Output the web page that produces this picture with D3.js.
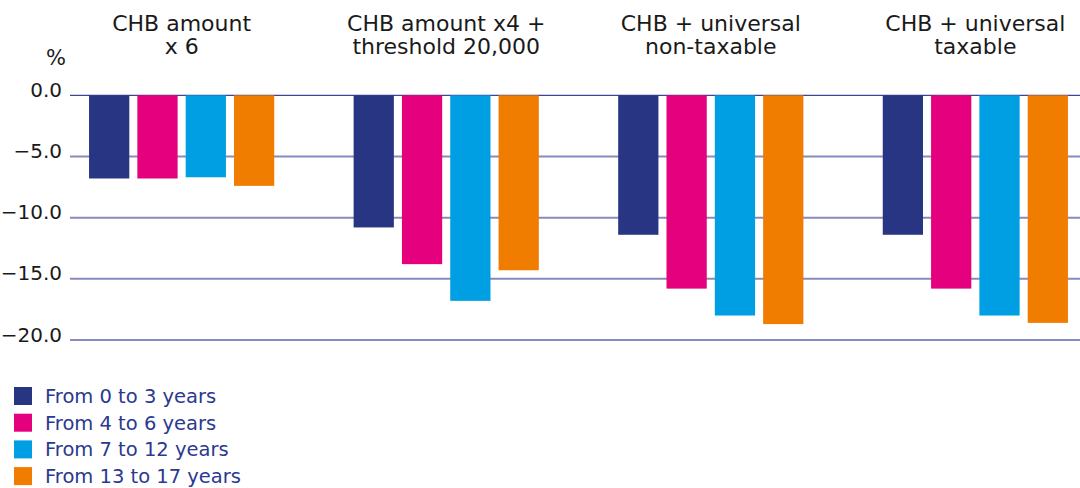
<!DOCTYPE html>
<html>
<head>
<meta charset="utf-8">
<script src="https://cdn.jsdelivr.net/npm/d3@7"></script>
<style>
  html, body { margin: 0; padding: 0; background: #fff; }
  svg { display: block; font-family: "DejaVu Sans", sans-serif; }
</style>
</head>
<body>
<svg id="chart" width="1080" height="488"></svg>
<script>
// Scenario titles (two lines each)
const scenarios = [
  ["CHB amount", "x 6"],
  ["CHB amount x4 +", "threshold 20,000"],
  ["CHB + universal", "non-taxable"],
  ["CHB + universal", "taxable"]
];
// Age groups (series)
const ageGroups = ["From 0 to 3 years", "From 4 to 6 years", "From 7 to 12 years", "From 13 to 17 years"];
const ageColors = ["#283583", "#e5007e", "#009fe3", "#f07d00"];
// Change in %, one array per age group, one value per scenario
const age0to3   = [-6.8, -10.8, -11.4, -11.4];
const age4to6   = [-6.8, -13.8, -15.8, -15.8];
const age7to12  = [-6.7, -16.8, -18.0, -18.0];
const age13to17 = [-7.4, -14.3, -18.7, -18.6];
const seriesValues = [age0to3, age4to6, age7to12, age13to17];
// Y axis ticks
const yTicks = [0, -5, -10, -15, -20];

const svg = d3.select("#chart");

const x0 = d3.scaleBand()
  .domain(d3.range(scenarios.length))
  .range([70, 1087])
  .paddingInner(0.3)
  .paddingOuter(0.072);

const x1 = d3.scaleBand()
  .domain(d3.range(ageGroups.length))
  .range([0, x0.bandwidth()])
  .paddingInner(0.167)
  .paddingOuter(0);

const y = d3.scaleLinear().domain([0, -20]).range([95.3, 340]);

// Gridlines
const grid = svg.append("g");
grid.selectAll("line")
  .data(yTicks)
  .join("line")
  .attr("x1", 70).attr("x2", 1080)
  .attr("y1", d => y(d)).attr("y2", d => y(d))
  .attr("stroke", d => d === 0 ? "#3d4592" : "#878bbd")
  .attr("stroke-width", d => d === 0 ? 1.3 : 2);

// Y axis labels
const yAxis = d3.axisLeft(y).tickValues(yTicks).tickFormat(d3.format(".1f")).tickSize(0).tickPadding(0);
const yg = svg.append("g").attr("transform", "translate(62,0)").call(yAxis);
yg.select(".domain").remove();
yg.selectAll("text")
  .attr("font-family", "DejaVu Sans, sans-serif")
  .attr("font-size", 20)
  .attr("fill", "#1a1a1a")
  .attr("dy", "0.05em")
  .attr("text-anchor", "end");

svg.append("text")
  .attr("x", 56).attr("y", 65)
  .attr("text-anchor", "middle")
  .attr("font-size", 21)
  .attr("fill", "#1a1a1a")
  .text("%");

// Bars
const groups = svg.append("g").selectAll("g")
  .data(scenarios.map((s, i) => i))
  .join("g")
  .attr("transform", i => `translate(${x0(i)},0)`);

groups.selectAll("rect")
  .data(i => seriesValues.map((vals, k) => ({k, v: vals[i]})))
  .join("rect")
  .attr("x", d => x1(d.k))
  .attr("width", x1.bandwidth())
  .attr("y", d => y(Math.max(0, d.v)))
  .attr("height", d => Math.abs(y(d.v) - y(0)))
  .attr("fill", d => ageColors[d.k]);

// Scenario titles
const titles = svg.append("g").selectAll("text")
  .data(scenarios)
  .join("text")
  .attr("x", (d, i) => x0(i) + x0.bandwidth() / 2)
  .attr("y", 31)
  .attr("text-anchor", "middle")
  .attr("font-size", 22)
  .attr("fill", "#1a1a1a");
titles.selectAll("tspan")
  .data(d => d)
  .join("tspan")
  .attr("x", function() { return d3.select(this.parentNode).attr("x"); })
  .attr("dy", (d, j) => j === 0 ? 0 : 23)
  .text(d => d);

// Legend
const legend = svg.append("g").selectAll("g")
  .data(ageGroups)
  .join("g")
  .attr("transform", (d, i) => `translate(14,${387 + i * 26.7})`);
legend.append("rect")
  .attr("width", 18).attr("height", 18)
  .attr("fill", (d, i) => ageColors[i]);
legend.append("text")
  .attr("x", 31).attr("y", 16)
  .attr("font-size", 19.5)
  .attr("fill", "#2b3990")
  .text(d => d);
</script>
</body>
</html>
